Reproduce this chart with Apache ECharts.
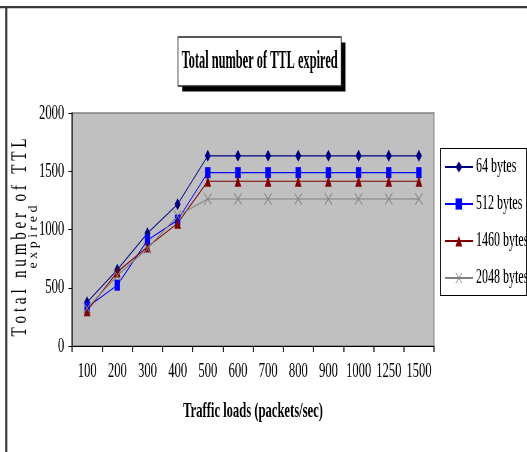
<!DOCTYPE html>
<html>
<head>
<meta charset="utf-8">
<script src="https://cdn.jsdelivr.net/npm/echarts@6/dist/echarts.min.js"></script>
<style>
  html, body { margin: 0; padding: 0; background: #fff; overflow: hidden; }
  /* the chart is laid out on a wider canvas and narrowed horizontally */
  #chart { width: 878px; height: 452px; transform: scaleX(0.60023); transform-origin: 0 0; }
</style>
</head>
<body>
<div id="chart"></div>
<script>
// Traffic loads (packets/sec)
const categories = ['100', '200', '300', '400', '500', '600', '700', '800', '900', '1000', '1250', '1500'];

// Total number of TTL expired, per packet size
const bytes64   = [375, 655, 968, 1216, 1632, 1632, 1632, 1632, 1632, 1632, 1632, 1632];
const bytes512  = [332, 522, 908, 1080, 1488, 1488, 1488, 1488, 1488, 1488, 1488, 1488];
const bytes1460 = [303, 636, 850, 1054, 1414, 1414, 1414, 1414, 1414, 1414, 1414, 1414];
const bytes2048 = [324, 604, 838, 1118, 1262, 1262, 1262, 1262, 1262, 1262, 1262, 1262];

const seriesNames = ['64 bytes', '512 bytes', '1460 bytes', '2048 bytes'];

// value axis ticks
const yMin = 0, yMax = 2000, yStep = 500;

const SERIF = '"Liberation Serif", "Times New Roman", serif';
const CROSS = 'path://M0,1 L1,0 L8,7 L15,0 L16,1 L9,8 L16,15 L15,16 L8,9 L1,16 L0,15 L7,8 Z';

function textWidth(font, s) {
  const ctx = document.createElement('canvas').getContext('2d');
  ctx.font = font;
  return ctx.measureText(s).width;
}

const titleText = 'Total number of TTL expired';
const titleFont = 'bold 25px ' + SERIF;
const yName1 = 'T o t a l   n u m b e r   o f   T T L';
const yName1Font = '35px ' + SERIF;
const yName2 = 'e x p i r e d';
const yName2Font = '20px ' + SERIF;

function lineSeries(name, data, color, symbol, size) {
  return {
    name: name,
    type: 'line',
    data: data,
    symbol: symbol,
    symbolSize: size,
    showSymbol: true,
    color: color,
    lineStyle: { color: color, width: 1.2 },
    itemStyle: { color: color },
    emphasis: { disabled: true },
    animation: false
  };
}

const chart = echarts.init(document.getElementById('chart'), null, { renderer: 'canvas' });

chart.setOption({
  backgroundColor: '#fff',
  animation: false,
  grid: {
    left: 120, right: 155, top: 113, bottom: 106,
    show: true, backgroundColor: '#C0C0C0', borderColor: '#808080', borderWidth: 1.5
  },
  legend: {
    data: seriesNames,
    orient: 'vertical',
    left: 740, top: 157,
    padding: 0,
    itemWidth: 47, itemHeight: 14, itemGap: 17,
    textStyle: { fontFamily: SERIF, fontSize: 20, color: '#000', lineHeight: 20 },
    selectedMode: false,
    z: 10
  },
  xAxis: {
    type: 'category',
    data: categories,
    boundaryGap: true,
    axisLine: { lineStyle: { color: '#000', width: 1 } },
    axisTick: { show: true, length: 6, lineStyle: { color: '#000', width: 1.7 } },
    axisLabel: { color: '#000', fontFamily: SERIF, fontSize: 21, margin: 15, interval: 0 },
    splitLine: { show: false },
    name: 'Traffic loads (packets/sec)',
    nameLocation: 'middle',
    nameGap: 55,
    nameTextStyle: { fontFamily: SERIF, fontWeight: 'bold', fontSize: 21, color: '#000' }
  },
  yAxis: {
    type: 'value',
    min: yMin, max: yMax, interval: yStep,
    axisLine: { show: true, lineStyle: { color: '#000', width: 1.7 } },
    axisTick: { show: true, length: 6, lineStyle: { color: '#000', width: 1 } },
    axisLabel: {
      color: '#000', fontFamily: SERIF, fontSize: 21, margin: 13,
      formatter: function (v) { return String(v); }
    },
    splitLine: { show: false }
  },
  series: [
    lineSeries(seriesNames[0], bytes64, '#000080', 'diamond', [10, 12]),
    lineSeries(seriesNames[1], bytes512, '#0000FF', 'rect', [9, 11]),
    lineSeries(seriesNames[2], bytes1460, '#800000', 'triangle', [11, 11]),
    lineSeries(seriesNames[3], bytes2048, '#808080', CROSS, [13, 12])
  ],
  graphic: [
    // outer frame (top and left edges)
    { type: 'rect', z: 1, shape: { x: 0, y: 6, width: 878, height: 2.2 }, style: { fill: '#3a3a3a' } },
    { type: 'rect', z: 1, shape: { x: 8.5, y: 6, width: 3.8, height: 452 }, style: { fill: '#3a3a3a' } },
    // title box with drop shadow
    { type: 'rect', z: 1, shape: { x: 303.5, y: 42.5, width: 272, height: 49 }, style: { fill: '#000' } },
    { type: 'rect', z: 2, shape: { x: 296.5, y: 37, width: 272, height: 49 }, style: { fill: '#fff', stroke: '#222', lineWidth: 1.5 } },
    {
      type: 'text', z: 3, x: 432.5, y: 62,
      scaleX: 260 / textWidth(titleFont, titleText),
      style: { text: titleText, font: titleFont, fill: '#000', align: 'center', verticalAlign: 'middle' }
    },
    // y axis title, two rotated lines
    {
      type: 'text', z: 3, x: 33.5, y: 237.5, rotation: Math.PI / 2,
      scaleX: 198 / textWidth(yName1Font, yName1),
      style: { text: yName1, font: yName1Font, fill: '#000', align: 'center', verticalAlign: 'middle' }
    },
    {
      type: 'text', z: 3, x: 56, y: 237, rotation: Math.PI / 2,
      scaleX: 63 / textWidth(yName2Font, yName2),
      style: { text: yName2, font: yName2Font, fill: '#000', align: 'center', verticalAlign: 'middle' }
    },
    // legend frame
    { type: 'rect', z: 1, shape: { x: 733, y: 148, width: 145, height: 148 }, style: { fill: '#000' } },
    { type: 'rect', z: 2, shape: { x: 734.7, y: 149, width: 141.6, height: 146 }, style: { fill: '#fff' } }
  ]
});
</script>
</body>
</html>
